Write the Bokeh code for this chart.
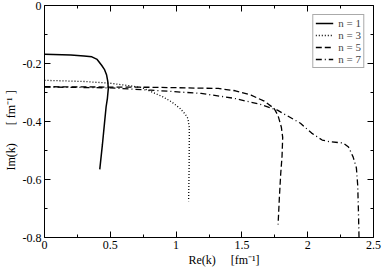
from bokeh.plotting import figure
from bokeh.models import FixedTicker, LinearAxis, Legend, LegendItem, Range1d
from bokeh.embed import file_html
from bokeh.resources import INLINE

# n = 1 (solid)
x_n1 = [0, 0.2, 0.3, 0.36, 0.4, 0.434, 0.455, 0.472, 0.481, 0.485, 0.478, 0.468, 0.455, 0.44, 0.42]
y_n1 = [-0.168, -0.171, -0.174, -0.177, -0.186, -0.206, -0.22, -0.24, -0.262, -0.286, -0.32, -0.35, -0.41, -0.48, -0.565]
# n = 3 (dotted)
x_n3 = [0, 0.3, 0.5, 0.65, 0.74, 0.81, 0.9, 0.965, 1.03, 1.07, 1.09, 1.1, 1.1, 1.099, 1.097, 1.095]
y_n3 = [-0.258, -0.262, -0.268, -0.277, -0.283, -0.297, -0.315, -0.332, -0.355, -0.375, -0.39, -0.42, -0.47, -0.55, -0.62, -0.675]
# n = 5 (dashed)
x_n5 = [0, 0.81, 1.32, 1.45, 1.57, 1.67, 1.745, 1.775, 1.8, 1.81, 1.805, 1.795, 1.785, 1.775]
y_n5 = [-0.28, -0.282, -0.286, -0.294, -0.309, -0.33, -0.355, -0.38, -0.42, -0.455, -0.52, -0.58, -0.66, -0.755]
# n = 7 (dash-dot)
x_n7 = [0, 0.5, 0.81, 1.19, 1.44, 1.64, 1.77, 1.945, 2.03, 2.11, 2.17, 2.27, 2.31, 2.345, 2.37, 2.38, 2.385, 2.39]
y_n7 = [-0.281, -0.284, -0.292, -0.303, -0.32, -0.341, -0.361, -0.406, -0.44, -0.464, -0.47, -0.474, -0.488, -0.522, -0.56, -0.62, -0.7, -0.8]

x_ticks = [0, 0.5, 1.0, 1.5, 2.0, 2.5]
x_tick_labels = ["0", "0.5", "1", "1.5", "2", "2.5"]
x_minor = [0.25, 0.75, 1.25, 1.75, 2.25]
y_ticks = [-0.8, -0.6, -0.4, -0.2, 0]
y_tick_labels = ["-0.8", "-0.6", "-0.4", "-0.2", "0"]
y_minor = [-0.7, -0.5, -0.3, -0.1]
legend_labels = ["n = 1", "n = 3", "n = 5", "n = 7"]
x_title = "\u00a0" * 10 + "Re(k)\u00a0\u00a0\u00a0\u00a0\u00a0[fm\u207b\u00b9]"
y_title = "Im(k)" + "\u00a0" * 6 + "[ fm\u207b\u00b9 ]" + "\u00a0" * 6

FONT = "Liberation Serif"

p = figure(width=382, height=269, output_backend="svg", toolbar_location=None,
           x_range=Range1d(0, 2.5), y_range=Range1d(-0.8, 0),
           min_border_left=42, min_border_right=9, min_border_top=5, min_border_bottom=32,
           x_axis_location=None, y_axis_location=None)
p.grid.visible = False
p.outline_line_color = None
p.background_fill_color = "white"

def style(ax, labels=True):
    ax.axis_line_color = "black"
    ax.axis_line_width = 1
    ax.major_tick_in = 6
    ax.major_tick_out = 0
    ax.minor_tick_in = 3
    ax.minor_tick_out = 0
    ax.major_tick_line_color = "black"
    ax.minor_tick_line_color = "black"
    ax.major_label_text_font = FONT
    ax.major_label_text_color = "black"
    ax.axis_label_text_font = FONT
    ax.axis_label_text_font_style = "normal"
    ax.axis_label_text_font_size = "12px"
    ax.axis_label_text_color = "black"
    if labels:
        ax.major_label_text_font_size = "12px"
        ax.major_label_standoff = 3
    else:
        ax.major_label_text_font_size = "0px"
        ax.major_label_standoff = 0

xt = FixedTicker(ticks=x_ticks, minor_ticks=x_minor)
yt = FixedTicker(ticks=y_ticks, minor_ticks=y_minor)

xb = LinearAxis(ticker=xt, major_label_overrides=dict(zip(x_ticks, x_tick_labels)), axis_label=x_title)
style(xb)
xb.axis_label_standoff = 1
xa = LinearAxis(ticker=xt)
style(xa, False)
yl = LinearAxis(ticker=yt, major_label_overrides=dict(zip(y_ticks, y_tick_labels)), axis_label=y_title)
style(yl)
yl.axis_label_standoff = 2
yr = LinearAxis(ticker=yt)
style(yr, False)
p.add_layout(xb, "below")
p.add_layout(xa, "above")
p.add_layout(yl, "left")
p.add_layout(yr, "right")

r1 = p.line(x_n1, y_n1, line_color="black", line_width=1.5)
r3 = p.line(x_n3, y_n3, line_color="black", line_width=1.3, line_dash="1 2")
r5 = p.line(x_n5, y_n5, line_color="black", line_width=1.3, line_dash="6 3")
r7 = p.line(x_n7, y_n7, line_color="black", line_width=1.3, line_dash="6 3 1 3")

legend = Legend(items=[LegendItem(label=l, renderers=[r]) for l, r in zip(legend_labels, [r1, r3, r5, r7])],
                location="top_right")
legend.label_text_font = FONT
legend.label_text_font_size = "11px"
legend.label_height = 12
legend.glyph_height = 12
legend.glyph_width = 18
legend.spacing = 0
legend.padding = 2
legend.margin = 9
legend.label_standoff = 5
legend.border_line_color = "#555555"
legend.border_line_width = 1
legend.background_fill_color = "white"
legend.background_fill_alpha = 1
p.add_layout(legend, "center")

open("out.html", "w").write(file_html(p, INLINE))
